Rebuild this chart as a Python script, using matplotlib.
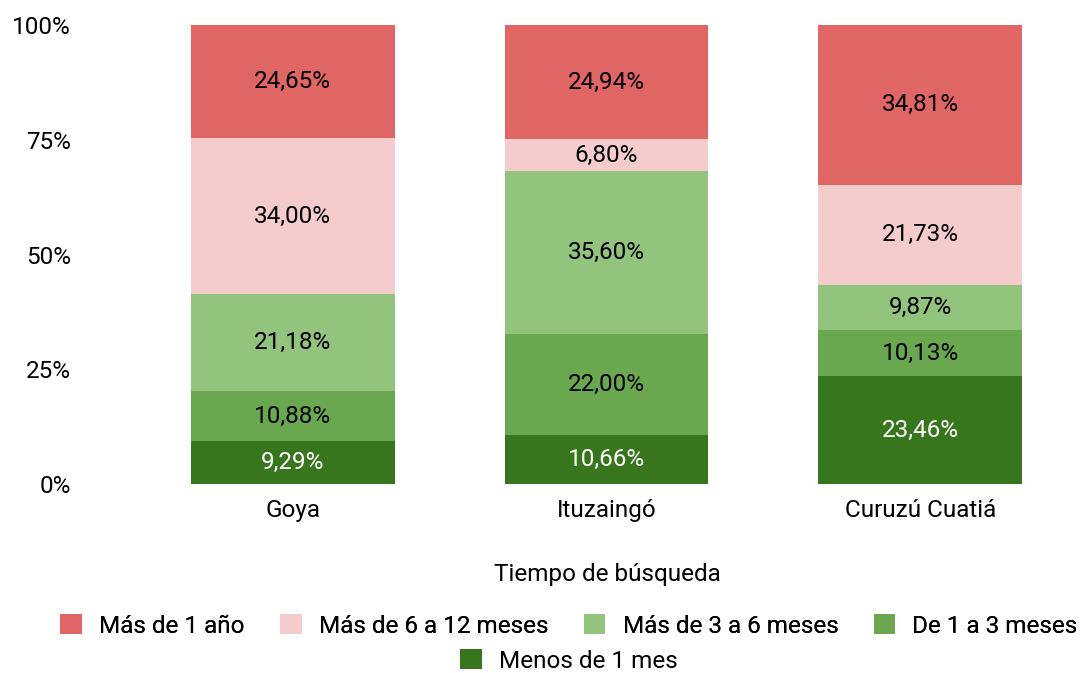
import matplotlib.pyplot as plt
from matplotlib.patches import Patch

plt.rcParams["font.family"] = ["Roboto", "DejaVu Sans"]

towns = ["Goya", "Ituzaingó", "Curuzú Cuatiá"]
# stacked from bottom to top
series = ["Menos de 1 mes", "De 1 a 3 meses", "Más de 3 a 6 meses",
          "Más de 6 a 12 meses", "Más de 1 año"]
menos_1_mes = [9.29, 10.66, 23.46]
de_1_a_3 = [10.88, 22.00, 10.13]
de_3_a_6 = [21.18, 35.60, 9.87]
de_6_a_12 = [34.00, 6.80, 21.73]
mas_1_anio = [24.65, 24.94, 34.81]
values = [menos_1_mes, de_1_a_3, de_3_a_6, de_6_a_12, mas_1_anio]
colors = ["#38761d", "#6aa84f", "#93c47d", "#f4cccc", "#e06666"]
text_colors = ["white", "black", "black", "black", "black"]

fs = 17.5
fig = plt.figure(figsize=(10.82, 6.73), dpi=100)
ax = fig.add_axes([136 / 1082, 189 / 673, (1077 - 136) / 1082, 459 / 673])

x = range(len(towns))
bottom = [0, 0, 0]
for vals, col, tc in zip(values, colors, text_colors):
    ax.bar(x, vals, bottom=bottom, width=0.65, color=col, linewidth=0)
    for xi, v, b in zip(x, vals, bottom):
        ax.text(xi, b + v / 2, f"{v:.2f}".replace(".", ",") + "%",
                ha="center", va="center", fontsize=fs, color=tc)
    bottom = [b + v for b, v in zip(bottom, vals)]

ax.set_xlim(-0.5, 2.5)
ax.set_ylim(0, 100)
ax.set_yticks([0, 25, 50, 75, 100])
ax.set_yticklabels(["0%", "25%", "50%", "75%", "100%"])
ax.set_xticks(list(x))
ax.set_xticklabels(towns)
ax.tick_params(axis="y", length=0, pad=47, labelsize=fs)
ax.tick_params(axis="x", length=0, pad=11, labelsize=fs)
for s in ax.spines.values():
    s.set_visible(False)

fig.text(607 / 1082, 1 - 575 / 673, "Tiempo de búsqueda", ha="center",
         va="center", fontsize=fs)

# legend order as in the reference
order = [4, 3, 2, 1]
h1 = [Patch(facecolor=colors[i], label=series[i]) for i in order]
leg1 = fig.legend(handles=h1, loc="center", bbox_to_anchor=(569 / 1082, 1 - 626 / 673),
                  ncol=4, frameon=False, fontsize=fs, handlelength=0.9,
                  handleheight=0.9, handletextpad=0.7, columnspacing=1.45,
                  borderpad=0)
fig.add_artist(leg1)
h2 = [Patch(facecolor=colors[0], label=series[0])]
fig.legend(handles=h2, loc="center", bbox_to_anchor=(569 / 1082, 1 - 661 / 673),
           frameon=False, fontsize=fs, handlelength=0.9, handleheight=0.9,
           handletextpad=0.7, borderpad=0)

fig.savefig("out.png", dpi=100)
